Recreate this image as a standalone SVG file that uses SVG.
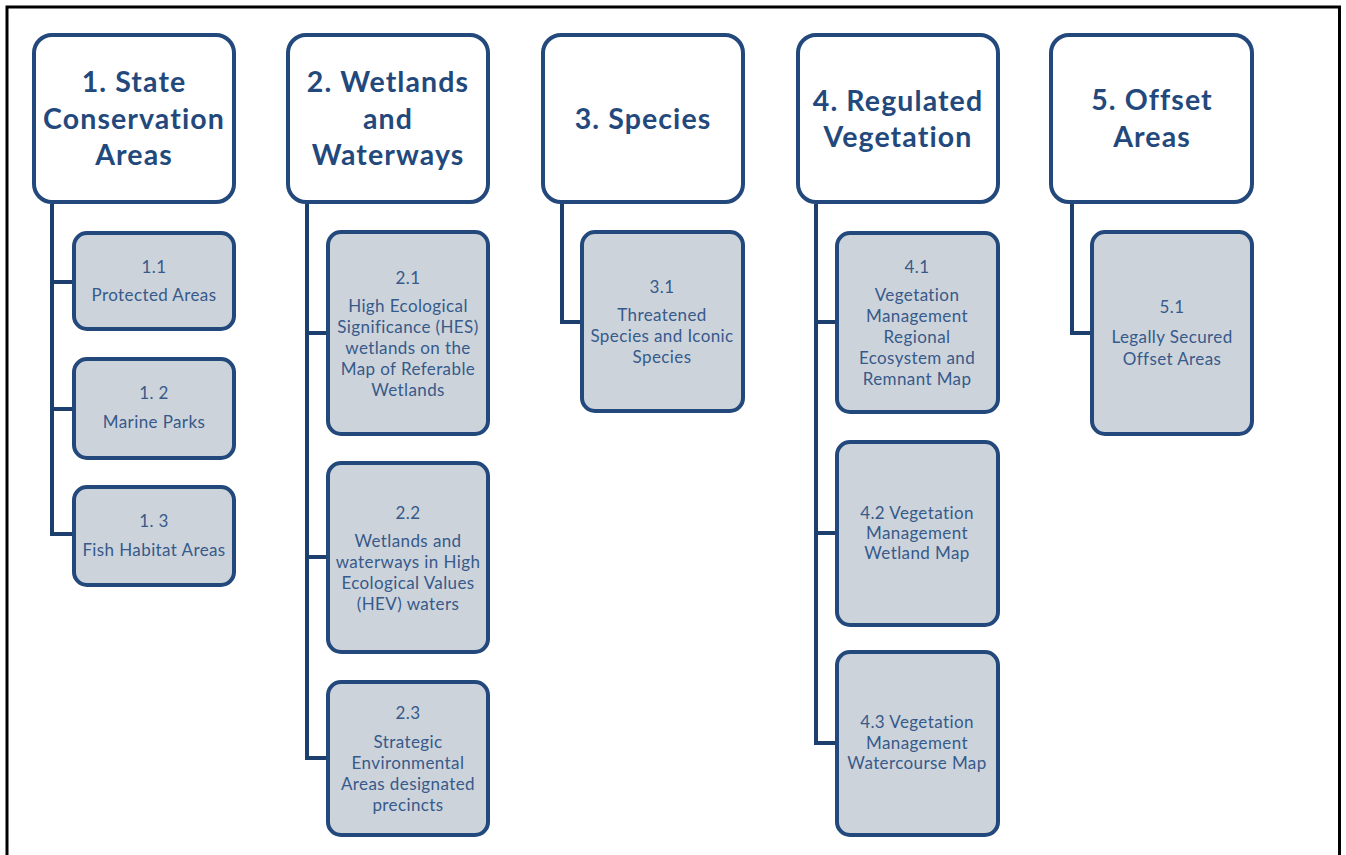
<svg xmlns="http://www.w3.org/2000/svg" width="1346" height="855" viewBox="0 0 1346 855">
<style>
.top{fill:#ffffff;stroke:#23497c;stroke-width:4}
.sub{fill:#cdd3db;stroke:#23497c;stroke-width:4}
.tt{font-family:Lato,"Liberation Sans",sans-serif;font-weight:bold;font-size:28.5px;letter-spacing:1.1px;fill:#23497c;text-anchor:middle}
.st{font-family:Lato,"Liberation Sans",sans-serif;font-size:17px;letter-spacing:0.4px;fill:#365a8a;text-anchor:middle}
.con{fill:none;stroke:#1d3f6e;stroke-width:4;stroke-linejoin:miter}
</style>
<rect width="1346" height="855" fill="#ffffff"/>
<path d="M7,858 V7 H1339.5 V858" fill="none" stroke="#000" stroke-width="3"/>
<g id="connectors">
<path class="con" d="M52,204 V534 H72 M52,282 H72 M52,409 H72"/>
<path class="con" d="M307,204 V758 H326 M307,333 H326 M307,557 H326"/>
<path class="con" d="M562,204 V322 H580"/>
<path class="con" d="M816,204 V743 H835 M816,322 H835 M816,533 H835"/>
<path class="con" d="M1072,204 V333 H1090"/>
</g>
<g id="n1">
<rect class="top" x="34" y="35" width="200" height="167" rx="18"/>
<text class="tt" x="134" y="92">1. State</text>
<text class="tt" x="134" y="129">Conservation</text>
<text class="tt" x="134" y="165">Areas</text>
</g>
<g id="n2">
<rect class="top" x="288" y="35" width="200" height="167" rx="18"/>
<text class="tt" x="388" y="92">2. Wetlands</text>
<text class="tt" x="388" y="129">and</text>
<text class="tt" x="388" y="165">Waterways</text>
</g>
<g id="n3">
<rect class="top" x="543" y="35" width="200" height="167" rx="18"/>
<text class="tt" x="643" y="129">3. Species</text>
</g>
<g id="n4">
<rect class="top" x="798" y="35" width="200" height="167" rx="18"/>
<text class="tt" x="898" y="111">4. Regulated</text>
<text class="tt" x="898" y="147">Vegetation</text>
</g>
<g id="n5">
<rect class="top" x="1051" y="35" width="201" height="167" rx="18"/>
<text class="tt" x="1152" y="110">5. Offset</text>
<text class="tt" x="1152" y="147">Areas</text>
</g>
<g id="n1_1">
<rect class="sub" x="74" y="233" width="160" height="96" rx="13"/>
<text class="st" x="154" y="273">1.1</text>
<text class="st" x="154" y="301">Protected Areas</text>
</g>
<g id="n1_2">
<rect class="sub" x="74" y="359" width="160" height="99" rx="13"/>
<text class="st" x="154" y="399">1. 2</text>
<text class="st" x="154" y="428">Marine Parks</text>
</g>
<g id="n1_3">
<rect class="sub" x="74" y="487" width="160" height="98" rx="13"/>
<text class="st" x="154" y="527">1. 3</text>
<text class="st" x="154" y="556">Fish Habitat Areas</text>
</g>
<g id="n2_1">
<rect class="sub" x="328" y="232" width="160" height="202" rx="13"/>
<text class="st" x="408" y="284">2.1</text>
<text class="st" x="408" y="312">High Ecological</text>
<text class="st" x="408" y="333">Significance (HES)</text>
<text class="st" x="408" y="354">wetlands on the</text>
<text class="st" x="408" y="375">Map of Referable</text>
<text class="st" x="408" y="396">Wetlands</text>
</g>
<g id="n2_2">
<rect class="sub" x="328" y="463" width="160" height="189" rx="13"/>
<text class="st" x="408" y="519">2.2</text>
<text class="st" x="408" y="547">Wetlands and</text>
<text class="st" x="408" y="568">waterways in High</text>
<text class="st" x="408" y="589">Ecological Values</text>
<text class="st" x="408" y="610">(HEV) waters</text>
</g>
<g id="n2_3">
<rect class="sub" x="328" y="682" width="160" height="153" rx="13"/>
<text class="st" x="408" y="719">2.3</text>
<text class="st" x="408" y="748">Strategic</text>
<text class="st" x="408" y="769">Environmental</text>
<text class="st" x="408" y="790">Areas designated</text>
<text class="st" x="408" y="811">precincts</text>
</g>
<g id="n3_1">
<rect class="sub" x="582" y="232" width="161" height="179" rx="13"/>
<text class="st" x="662" y="293">3.1</text>
<text class="st" x="662" y="321">Threatened</text>
<text class="st" x="662" y="342">Species and Iconic</text>
<text class="st" x="662" y="363">Species</text>
</g>
<g id="n4_1">
<rect class="sub" x="837" y="233" width="161" height="179" rx="13"/>
<text class="st" x="917" y="273">4.1</text>
<text class="st" x="917" y="301">Vegetation</text>
<text class="st" x="917" y="322">Management</text>
<text class="st" x="917" y="343">Regional</text>
<text class="st" x="917" y="364">Ecosystem and</text>
<text class="st" x="917" y="385">Remnant Map</text>
</g>
<g id="n4_2">
<rect class="sub" x="837" y="442" width="161" height="183" rx="13"/>
<text class="st" x="917" y="519">4.2 Vegetation</text>
<text class="st" x="917" y="539">Management</text>
<text class="st" x="917" y="559">Wetland Map</text>
</g>
<g id="n4_3">
<rect class="sub" x="837" y="652" width="161" height="183" rx="13"/>
<text class="st" x="917" y="728">4.3 Vegetation</text>
<text class="st" x="917" y="749">Management</text>
<text class="st" x="917" y="769">Watercourse Map</text>
</g>
<g id="n5_1">
<rect class="sub" x="1092" y="232" width="160" height="202" rx="13"/>
<text class="st" x="1172" y="313">5.1</text>
<text class="st" x="1172" y="343">Legally Secured</text>
<text class="st" x="1172" y="365">Offset Areas</text>
</g>
</svg>
